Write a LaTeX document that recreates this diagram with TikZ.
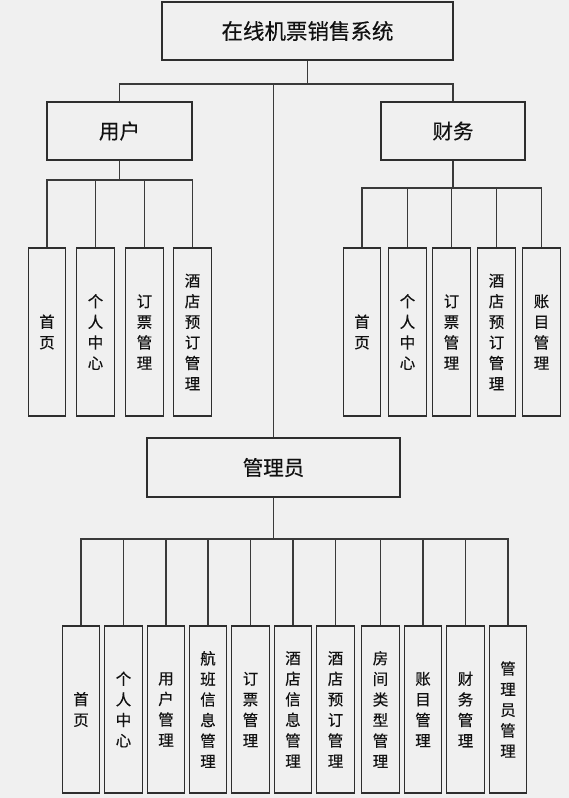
\documentclass[tikz,border=0pt]{standalone}
\usepackage{fontspec}
\newfontfamily\cjk[FakeBold=0.35]{Noto Sans CJK SC}
\definecolor{bgc}{HTML}{F0F0F0}
\definecolor{boxline}{HTML}{2E2E2E}
\definecolor{conline}{HTML}{3A3A3A}
\definecolor{txt}{HTML}{111111}
\begin{document}
\begin{tikzpicture}[x=1pt,y=-1pt,
  box/.style={draw=boxline,line width=1.2pt,fill=bgc,inner sep=0pt,text=txt,align=center},
  headbox/.style={box,font=\cjk\fontsize{20.5}{24}\selectfont},
  leafbox/.style={box,minimum width=37.5pt,font=\cjk\fontsize{15.5}{20.6}\selectfont,text width=20pt},
  conn/.style={draw=conline,line width=1.2pt}]
\fill[bgc] (0,0) rectangle (569,798);
\useasboundingbox (0,0) rectangle (569,798);
% top level
\node[headbox,minimum width=291pt,minimum height=58pt,font=\cjk\fontsize{21.5}{24}\selectfont] (top) at (307.5,31) {在线机票销售系统};
\node[headbox,minimum width=145pt,minimum height=58pt] (u) at (119.5,131) {用户};
\node[headbox,minimum width=144pt,minimum height=58pt] (f) at (453,131) {财务};
\node[headbox,minimum width=253pt,minimum height=59pt] (adm) at (273.5,467.5) {管理员};
% user children
\foreach \n/\x/\t in {u1/47/{首\\页},u2/95.5/{个\\人\\中\\心},u3/144.5/{订\\票\\管\\理},u4/192.5/{酒\\店\\预\\订\\管\\理}}
  \node[leafbox,minimum height=168pt] (\n) at (\x,332) {\t};
% finance children
\foreach \n/\x/\t in {f1/362/{首\\页},f2/407.5/{个\\人\\中\\心},f3/451.5/{订\\票\\管\\理},f4/496.5/{酒\\店\\预\\订\\管\\理},f5/541.5/{账\\目\\管\\理}}
  \node[leafbox,minimum height=168pt] (\n) at (\x,332) {\t};
% admin children
\foreach \n/\x/\t in {a1/81/{首\\页},a2/123.5/{个\\人\\中\\心},a3/166/{用\\户\\管\\理},a4/208/{航\\班\\信\\息\\管\\理},a5/250.5/{订\\票\\管\\理},a6/293/{酒\\店\\信\\息\\管\\理},a7/335.5/{酒\\店\\预\\订\\管\\理},a8/380.5/{房\\间\\类\\型\\管\\理},a9/423/{账\\目\\管\\理},a10/465.5/{财\\务\\管\\理},a11/508/{管\\理\\员\\管\\理}}
  \node[leafbox,minimum height=167pt] (\n) at (\x,709.5) {\t};
% bus coordinates
\coordinate (tb) at (0,84);
\coordinate (ub) at (0,180);
\coordinate (fb) at (0,188);
\coordinate (ab) at (0,539);
% connectors
\foreach \c in {u,f,adm}
  \draw[conn] (top.south) -- (top.south |- tb) -| (\c.north);
\foreach \c in {u1,u2,u3,u4}
  \draw[conn] (u.south) -- (u.south |- ub) -| (\c.north);
\foreach \c in {f1,f2,f3,f4,f5}
  \draw[conn] (f.south) -- (f.south |- fb) -| (\c.north);
\foreach \c in {a1,a2,a3,a4,a5,a6,a7,a8,a9,a10,a11}
  \draw[conn] (adm.south) -- (adm.south |- ab) -| (\c.north);
\end{tikzpicture}
\end{document}
